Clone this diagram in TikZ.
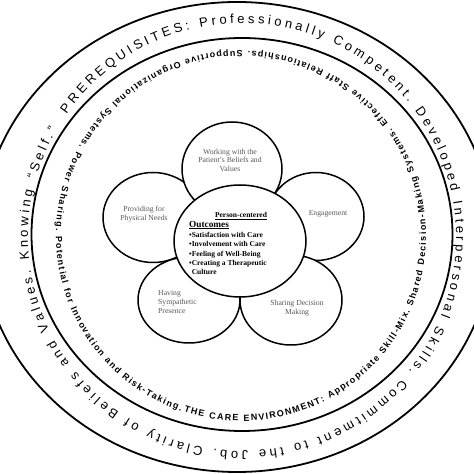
\documentclass[tikz,border=0pt]{standalone}
\usepackage{fontspec}
\setmainfont{Liberation Serif}
\newfontfamily\ringfont{Liberation Sans}
\usetikzlibrary{shapes.geometric,decorations.text,positioning}

\begin{document}
\begin{tikzpicture}[x=1pt,y=1pt,
    ring/.style={draw,ellipse,line width=1.8pt,inner sep=0pt},
    petal/.style={draw,ellipse,fill=white,line width=1.5pt,inner sep=0pt},
    ptext/.style={align=center,text=black!65,font=\fontsize{7.7}{9}\selectfont,inner sep=0pt},
    otext/.style={font=\bfseries\fontsize{7.5}{9.3}\selectfont,inner sep=0pt}]
  \clip (0,0) rectangle (474,474);
  \useasboundingbox (0,0) rectangle (474,474);
  \node[ring,minimum width=512pt,minimum height=470pt] (outer) at (237,237) {};
  \node[ring,minimum width=421pt,minimum height=393pt] (env) at (242,239.5) {};
  \coordinate (pre) at (242,237);
  \coordinate (care) at (241,238);
  \path[decorate,decoration={text along path,text align={fit to path},
      text={|\ringfont\fontsize{13}{15}\selectfont|PREREQUISITES: Professionally Competent. Developed Interpersonal Skills. Commitment to the Job. Clarity of Beliefs and Values. Knowing “Self.”}}]
    ([shift={(145:214pt)}]pre) arc[start angle=145,end angle=-210,radius=214pt];
  \path[decorate,decoration={text along path,text align={fit to path},
      text={|\ringfont\bfseries\fontsize{9}{11}\selectfont|THE CARE ENVIRONMENT: Appropriate Skill-Mix. Shared Decision-Making Systems. Effective Staff Relationships. Supportive Organizational Systems. Power Sharing. Potential for Innovation and Risk-Taking.}}]
    ([shift={(252:185pt)}]care) arc[start angle=252,end angle=611,radius=185pt];
  \node[petal,minimum width=100pt,minimum height=90pt] (left) at (153,256.5) {};
  \node[petal,minimum width=96pt,minimum height=88pt] (right) at (316,257.5) {};
  \node[petal,minimum width=102pt,minimum height=86pt] (botleft) at (189,174) {};
  \node[petal,minimum width=102pt,minimum height=90pt] (botright) at (291,174) {};
  \node[petal,minimum width=100pt,minimum height=94pt] (top) at (232,305) {};
  \node[petal,minimum width=132pt,minimum height=112pt] (centre) at (240,233) {};
  \node[ptext,font=\fontsize{7.7}{8.5}\selectfont] (ttop) at (230,314) {Working with the\\Patient’s Beliefs and\\Values};
  \node[ptext] (tleft) at (144,260) {Providing for\\Physical Needs};
  \node[ptext] (tright) at (328,260) {Engagement};
  \node[ptext,align=left,anchor=west] (tbotleft) at (158,172) {Having\\Sympathetic\\Presence};
  \node[ptext] (tbotright) at (297,166) {Sharing Decision\\Making};
  \node[otext] (pc) at (241,258) {\underline{Person-centered}};
  \node[otext,font=\bfseries\fontsize{9.3}{11}\selectfont,anchor=west] (oc) at (189,249) {\underline{Outcomes}};
  \node[otext,align=left,anchor=west] (olist) at (189,220.5) {•Satisfaction with Care\\•Involvement with Care\\•Feeling of Well-Being\\•Creating a Therapeutic\\\phantom{•}Culture};
\end{tikzpicture}
\end{document}
